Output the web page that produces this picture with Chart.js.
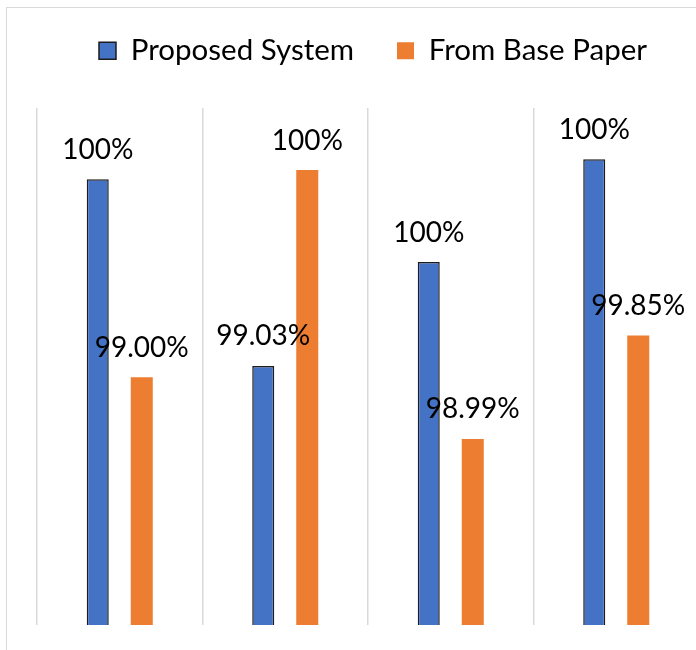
<!DOCTYPE html>
<html>
<head>
<meta charset="utf-8">
<script src="https://cdn.jsdelivr.net/npm/chart.js@4.4.0/dist/chart.umd.min.js"></script>
<style>
  html, body { margin: 0; padding: 0; background: #fff; overflow: hidden; }
  #wrap { position: relative; width: 702px; height: 650px; }
</style>
</head>
<body>
<div id="wrap"><canvas id="chart" width="702" height="650"></canvas></div>
<script>
// categories have no visible labels in the picture
const categories = ['Case 1', 'Case 2', 'Case 3', 'Case 4'];
const seriesNames = ['Proposed System', 'From Base Paper'];

// bar heights as drawn (share of plot height)
const proposedHeights = [86.2, 50.1, 70.2, 90.1];
const baseHeights = [47.9, 88.0, 36.0, 56.0];

// value labels printed above the bars
const proposedLabels = ['100%', '99.03%', '100%', '100%'];
const baseLabels = ['99.00%', '100%', '98.99%', '99.85%'];

const FONT = 'Lato';
const LABEL_SIZE = 28;
const LEGEND_SIZE = 29.5;

Chart.defaults.font.family = FONT;
Chart.defaults.color = '#000';

// light grey frame around the whole chart
const frame = {
    id: 'frame',
    beforeDraw(chart) {
        const ctx = chart.ctx;
        ctx.save();
        ctx.fillStyle = '#fff';
        ctx.fillRect(0, 0, chart.width, chart.height);
        ctx.strokeStyle = '#d9d9d9';
        ctx.lineWidth = 1;
        ctx.strokeRect(6.5, 7.5, 900, 900);
        ctx.restore();
    }
};

// push the plot area down below the legend and nudge the legend right
const legendSpacer = {
    id: 'legendSpacer',
    beforeLayout(chart) {
        const legend = chart.legend;
        if (legend && !legend._spaced) {
            const fit = legend.fit;
            legend.fit = function() {
                fit.call(this);
                this.height += 32.5;
            };
            legend._spaced = true;
        }
    },
    afterLayout(chart) {
        if (chart.legend) {
            chart.legend.left += 5;
            chart.legend.right += 5;
        }
    }
};

// text labels above each bar
const barLabels = {
    id: 'barLabels',
    afterDatasetsDraw(chart) {
        const ctx = chart.ctx;
        ctx.save();
        ctx.font = LABEL_SIZE + 'px ' + FONT;
        ctx.fillStyle = '#000';
        ctx.textAlign = 'center';
        ctx.textBaseline = 'alphabetic';
        chart.data.datasets.forEach((ds, i) => {
            chart.getDatasetMeta(i).data.forEach((bar, j) => {
                ctx.fillText(ds.valueLabels[j], bar.x, bar.y - 20.5);
            });
        });
        ctx.restore();
    }
};

new Chart(document.getElementById('chart'), {
    type: 'bar',
    data: {
        labels: categories,
        datasets: [{
            label: seriesNames[0],
            data: proposedHeights,
            valueLabels: proposedLabels,
            backgroundColor: '#4472c4',
            borderColor: '#1c1c1c',
            borderWidth: 1.5,
            categoryPercentage: 0.532,
            barPercentage: 0.5
        }, {
            label: seriesNames[1],
            data: baseHeights,
            valueLabels: baseLabels,
            backgroundColor: '#ed7d31',
            borderColor: '#ed7d31',
            borderWidth: 0,
            categoryPercentage: 0.532,
            barPercentage: 0.5
        }]
    },
    options: {
        responsive: false,
        animation: false,
        layout: {
            padding: { top: -7, bottom: 25, left: 37, right: 3 }
        },
        plugins: {
            legend: {
                position: 'top',
                labels: {
                    boxWidth: 17,
                    boxHeight: 17,
                    padding: 43,
                    color: '#000',
                    font: { size: LEGEND_SIZE, family: FONT }
                }
            },
            tooltip: { enabled: false }
        },
        scales: {
            x: {
                ticks: { display: false },
                border: { display: false },
                grid: {
                    offset: true,
                    drawTicks: false,
                    color: '#d9d9d9',
                    lineWidth: 1.5
                }
            },
            y: {
                display: false,
                min: 0,
                max: 100
            }
        }
    },
    plugins: [frame, legendSpacer, barLabels]
});
</script>
</body>
</html>
